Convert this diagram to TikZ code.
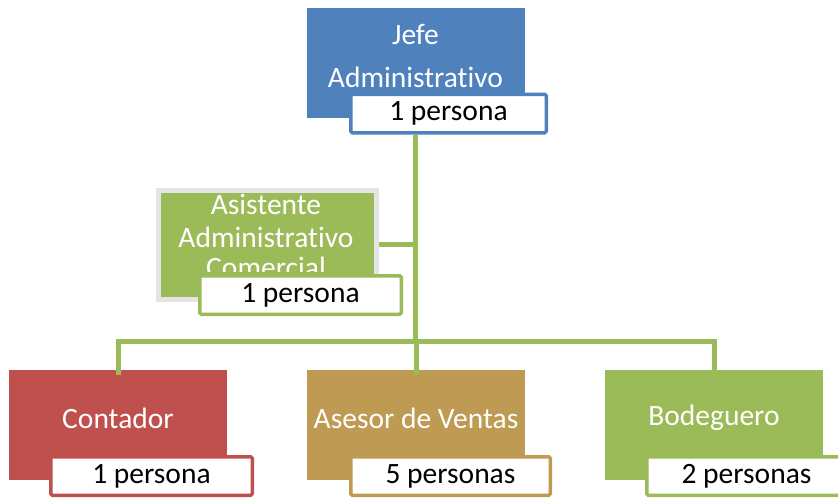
\documentclass[tikz,border=0pt]{standalone}
\usepackage{fontspec}
\setmainfont{Carlito}[Ligatures={NoCommon}]
\definecolor{cblue}{HTML}{4F81BD}
\definecolor{cred}{HTML}{C0504D}
\definecolor{cgold}{HTML}{BE9A52}
\definecolor{cgreen}{HTML}{9BBB59}
\definecolor{cgray}{HTML}{E4E4E4}
\begin{document}
\begin{tikzpicture}[x=1pt,y=-1pt,
  box/.style={draw=none,minimum width=218pt,minimum height=110pt,inner sep=0pt},
  lab/.style={draw=#1,fill=white,line width=3.5pt,rounded corners=1.5pt,minimum height=38.5pt,inner sep=0pt,font=\fontsize{29.5}{35}\selectfont,text=black},
  txt/.style={text=white,font=\fontsize{29.5}{35}\selectfont,inner sep=0pt,align=center},
  conn/.style={draw=cgreen,line width=5pt}]
\clip (0,0) rectangle (838,498);
\coordinate (hbus) at (416,341.5);
% boxes
\node[box,fill=cblue] (top) at (415.5,63) {};
\node[txt] (toptxt1) at (415.5,34) {Jefe};
\node[txt] (toptxt2) at (415.5,77) {Administrativo};
\node[lab=cblue,minimum width=195.5pt] (toplab) at (448.5,113.5) {1 persona};

\node[box,fill=cgreen,draw=cgray,line width=5pt,minimum width=218pt,minimum height=109pt] (asist) at (267,244.5) {};
\node[txt] (asisttxt1) at (266,204) {Asistente};
\node[txt] (asisttxt2) at (266,237) {Administrativo};
\begin{scope}
\clip (150,190) rectangle (390,271.5);
\node[txt,anchor=base] (asisttxt3) at (266,277) {\smash{Comercial}};
\end{scope}
\node[lab=cgreen,minimum width=201.5pt] (asistlab) at (300.5,295) {1 persona};

\draw[conn] (toplab.south -| top.south) -- (top.south |- hbus);
\draw[conn] (asist.east) -- (asist.east -| top.south);

\node[box,fill=cred] (cont) at (118,425) {};
\node[txt] (conttxt) at (118,418) {Contador};
\node[lab=cred,minimum width=201.5pt] (contlab) at (151.5,476) {1 persona};

\node[box,fill=cgold] (ases) at (416,425) {};
\node[txt] (asestxt) at (416,418) {Asesor de Ventas};
\node[lab=cgold,minimum width=199.5pt] (aseslab) at (450.5,476) {5 personas};

\node[box,fill=cgreen] (bode) at (714,425) {};
\node[txt] (bodetxt) at (714,418) {Bodeguero};
\node[lab=cgreen,minimum width=199.5pt] (bodelab) at (746.5,476) {2 personas};

\draw[conn] ([yshift=-5pt]cont.north) -- (cont.north |- hbus) -- (bode.north |- hbus) -- ([yshift=-5pt]bode.north);
\draw[conn] (ases.north |- hbus) -- ([yshift=-5pt]ases.north);
\end{tikzpicture}
\end{document}
